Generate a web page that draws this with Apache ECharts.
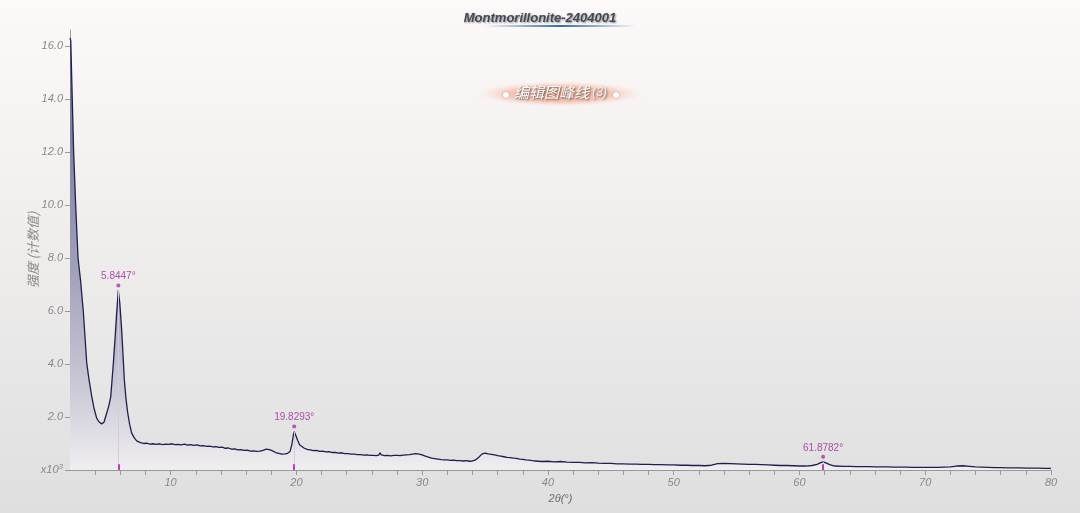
<!DOCTYPE html>
<html>
<head>
<meta charset="utf-8">
<script src="https://cdn.jsdelivr.net/npm/echarts@6/dist/echarts.min.js"></script>
<style>html,body{margin:0;padding:0;}#c{width:1080px;height:513px;}</style>
</head>
<body>
<div id="c"></div>
<script>
// XRD scan: [2θ (°), intensity (x10³ counts)]
const scan = [
[2.0,16.3],[2.06,16.2],[2.18,14.0],[2.29,12.0],[2.45,10.0],[2.64,8.0],[2.85,7.1],[3.06,5.97],[3.33,4.04],[3.5,3.45],
[3.73,2.77],[3.9,2.35],[4.12,1.96],[4.3,1.82],[4.52,1.74],[4.7,1.80],[4.92,2.15],[5.1,2.45],[5.24,2.77],[5.45,4.04],
[5.6,5.1],[5.71,5.92],[5.84,6.77],[5.96,6.3],[6.11,5.28],[6.32,3.40],[6.45,2.7],[6.59,2.15],[6.75,1.7],[6.9,1.40],
[7.1,1.22],[7.3,1.10],[7.6,1.03],[7.85,1.00],[8.1,1.01],[8.35,0.98],[8.6,0.99],[8.85,0.97],[9.1,0.99],[9.35,0.96],
[9.6,0.98],[9.85,0.97],[10.1,0.99],[10.35,0.96],[10.6,0.97],[10.85,0.95],[11.1,0.98],[11.35,0.94],[11.6,0.96],[11.85,0.93],
[12.1,0.95],[12.35,0.91],[12.6,0.92],[12.85,0.89],[13.1,0.90],[13.35,0.87],[13.6,0.88],[13.85,0.85],[14.1,0.86],[14.35,0.82],
[14.6,0.83],[14.85,0.79],[15.1,0.80],[15.35,0.76],[15.6,0.77],[15.85,0.74],[16.1,0.75],[16.35,0.71],[16.6,0.72],[16.85,0.70],
[17.1,0.71],[17.35,0.74],[17.6,0.79],[17.85,0.77],[18.1,0.72],[18.35,0.66],[18.6,0.63],[18.85,0.60],[19.1,0.61],[19.3,0.63],
[19.5,0.70],[19.65,0.98],[19.75,1.30],[19.83,1.45],[19.95,1.38],[20.1,1.12],[20.25,0.95],[20.4,0.88],[20.6,0.83],[20.85,0.78],
[21.1,0.76],[21.35,0.73],[21.6,0.74],[21.85,0.70],[22.1,0.71],[22.35,0.68],[22.6,0.69],[22.85,0.66],[23.1,0.66],[23.35,0.64],
[23.6,0.65],[23.85,0.62],[24.1,0.62],[24.35,0.60],[24.6,0.60],[24.85,0.58],[25.1,0.58],[25.35,0.56],[25.6,0.57],[25.85,0.55],
[26.1,0.55],[26.35,0.54],[26.55,0.56],[26.65,0.65],[26.75,0.57],[27.0,0.54],[27.25,0.55],[27.5,0.53],[27.75,0.55],[28.0,0.55],
[28.25,0.54],[28.5,0.56],[28.75,0.57],[29.0,0.58],[29.25,0.60],[29.5,0.62],[29.75,0.60],[30.0,0.57],[30.25,0.52],[30.5,0.49],
[30.75,0.45],[31.0,0.43],[31.25,0.41],[31.5,0.39],[31.75,0.38],[32.0,0.38],[32.25,0.36],[32.5,0.37],[32.75,0.35],[33.0,0.35],
[33.25,0.34],[33.5,0.35],[33.75,0.33],[34.0,0.34],[34.25,0.38],[34.5,0.48],[34.75,0.60],[35.0,0.64],[35.25,0.61],[35.5,0.59],
[35.75,0.57],[36.0,0.54],[36.25,0.52],[36.5,0.50],[36.75,0.48],[37.0,0.47],[37.25,0.45],[37.5,0.44],[37.75,0.41],[38.0,0.40],
[38.25,0.38],[38.5,0.37],[38.75,0.35],[39.0,0.34],[39.25,0.33],[39.5,0.32],[40.0,0.33],[40.5,0.31],[41.0,0.32],[41.5,0.30],
[42.0,0.29],[42.5,0.29],[43.0,0.27],[43.5,0.28],[44.0,0.26],[44.5,0.25],[45.0,0.25],[45.5,0.23],[46.0,0.23],[46.5,0.22],
[47.0,0.22],[47.5,0.21],[48.0,0.21],[48.5,0.20],[49.0,0.20],[49.5,0.19],[50.0,0.19],[50.5,0.18],[51.0,0.18],[51.5,0.17],
[52.0,0.17],[52.5,0.16],[53.0,0.18],[53.5,0.24],[54.0,0.25],[54.5,0.24],[55.0,0.23],[55.5,0.22],[56.0,0.21],[56.5,0.21],
[57.0,0.20],[57.5,0.19],[58.0,0.18],[58.5,0.17],[59.0,0.17],[59.5,0.16],[60.0,0.15],[60.5,0.15],[61.0,0.17],[61.4,0.21],
[61.7,0.28],[61.88,0.31],[62.1,0.27],[62.4,0.20],[62.8,0.15],[63.5,0.14],[64.0,0.14],[64.5,0.13],[65.0,0.13],[65.5,0.13],
[66.0,0.12],[66.5,0.12],[67.0,0.12],[67.5,0.11],[68.0,0.11],[68.5,0.11],[69.0,0.10],[69.5,0.10],[70.0,0.10],[70.5,0.10],
[71.0,0.10],[71.5,0.11],[72.0,0.12],[72.5,0.15],[73.0,0.16],[73.5,0.14],[74.0,0.12],[74.5,0.11],[75.0,0.10],[75.5,0.09],
[76.0,0.09],[76.5,0.08],[77.0,0.08],[77.5,0.08],[78.0,0.07],[78.5,0.07],[79.0,0.07],[79.5,0.06],[80.0,0.06]
];
const peakPositions = [5.8447, 19.8293, 61.8782];
const peakHeights = [6.77, 1.45, 0.31];
const xTickValues = [4,6,8,10,12,14,16,18,20,22,24,26,28,30,32,34,36,38,40,42,44,46,48,50,52,54,56,58,60,62,64,66,68,70,72,74,76,78,80];
const xLabelValues = [10,20,30,40,50,60,70,80];
const yTickValues = [0,2,4,6,8,10,12,14,16];
const titleText = 'Montmorillonite-2404001';
const badgeText = '编辑图峰线';
const badgeCount = '(3)';
const yName = '强度 (计数值)';
const xName = '2θ(°)';

const chart = echarts.init(document.getElementById('c'), null, {renderer: 'canvas'});
const FONT = '"Liberation Sans", Arial, sans-serif';

const peakPts = peakPositions.map((p, i) => [p, peakHeights[i]]);
const guideLines = peakPositions.map((p, i) => [{coord: [p, 0]}, {coord: [p, peakHeights[i]]}]);
const tickLines = peakPositions.map(p => [{coord: [p, 0]}, {coord: [p, 0.22]}]);

const option = {
  backgroundColor: new echarts.graphic.LinearGradient(0, 0, 0, 1, [
    {offset: 0, color: '#fcf9f8'},
    {offset: 0.45, color: '#f0eeed'},
    {offset: 0.85, color: '#e3e3e3'},
    {offset: 1, color: '#dfdfdf'}
  ]),
  animation: false,
  title: {
    text: titleText,
    left: 'center',
    top: 7,
    textStyle: {
      fontFamily: FONT, fontSize: 13, fontWeight: 'bold', fontStyle: 'italic', color: '#434854',
      textShadowColor: 'rgba(0,0,0,0.45)', textShadowBlur: 2, textShadowOffsetX: 1, textShadowOffsetY: 1
    }
  },
  graphic: [
    {
      type: 'rect', left: 484, top: 25, z: 10,
      shape: {width: 152, height: 2},
      style: {fill: new echarts.graphic.LinearGradient(0, 0, 1, 0, [
        {offset: 0, color: 'rgba(46,109,181,0)'},
        {offset: 0.5, color: 'rgba(46,109,181,1)'},
        {offset: 1, color: 'rgba(46,109,181,0)'}
      ])}
    },
    {
      type: 'circle', z: 10, x: 560, y: 94, scaleX: 6.6, scaleY: 1,
      shape: {cx: 0, cy: 0, r: 13},
      style: {fill: new echarts.graphic.RadialGradient(0.5, 0.5, 0.5, [
        {offset: 0, color: 'rgba(242,145,115,0.95)'},
        {offset: 0.6, color: 'rgba(246,180,158,0.7)'},
        {offset: 1, color: 'rgba(252,230,222,0)'}
      ])}
    },
    {type: 'circle', z: 11, shape: {cx: 506, cy: 95, r: 3}, style: {fill: '#ffffff', shadowColor: 'rgba(0,0,0,0.35)', shadowBlur: 2}},
    {type: 'circle', z: 11, shape: {cx: 616, cy: 95, r: 3}, style: {fill: '#ffffff', shadowColor: 'rgba(0,0,0,0.35)', shadowBlur: 2}},
    {
      type: 'text', z: 11, left: 514, top: 85,
      style: {
        text: '{a|' + badgeText + '} {b|' + badgeCount + '}',
        rich: {
          a: {fontSize: 15, fontStyle: 'italic', fontFamily: '"Noto Sans CJK SC", sans-serif', fill: '#ffffff',
              textShadowColor: 'rgba(50,50,50,0.8)', textShadowBlur: 2, textShadowOffsetX: 1, textShadowOffsetY: 1},
          b: {fontSize: 12, fontStyle: 'italic', fontFamily: FONT, fill: '#f2f2f2',
              textShadowColor: 'rgba(50,50,50,0.7)', textShadowBlur: 2, textShadowOffsetX: 1, textShadowOffsetY: 1}
        }
      }
    }
  ],
  grid: {left: 70, right: 29, top: 30, bottom: 43},
  xAxis: {
    type: 'value', min: 2, max: 80, interval: 2,
    name: xName, nameLocation: 'middle', nameGap: 23,
    nameTextStyle: {fontFamily: FONT, fontSize: 11, fontStyle: 'italic', color: '#6d6d6d'},
    axisLine: {show: true, lineStyle: {color: '#9a9a9a', width: 1}},
    axisTick: {show: true, length: 5, customValues: xTickValues, lineStyle: {color: '#9a9a9a'}},
    axisLabel: {customValues: xLabelValues, margin: 7, fontFamily: FONT, fontSize: 11, fontStyle: 'italic', color: '#888888'},
    splitLine: {show: false}
  },
  yAxis: {
    type: 'value', min: 0, max: 16.6,
    name: yName, nameLocation: 'middle', nameGap: 30, nameRotate: 90, nameMoveOverlap: false,
    nameTextStyle: {fontFamily: '"Noto Sans CJK SC", sans-serif', fontSize: 13, fontStyle: 'italic', color: '#8a8a8a'},
    axisLine: {show: true, lineStyle: {color: '#a0a0a0', width: 1}},
    axisTick: {show: true, length: 5, customValues: yTickValues, lineStyle: {color: '#9a9a9a'}},
    axisLabel: {
      customValues: yTickValues, margin: 7, fontFamily: FONT, fontSize: 11, fontStyle: 'italic', color: '#888888',
      formatter: v => v === 0 ? 'x10{s|3}' : v.toFixed(1),
      rich: {s: {fontSize: 8, fontStyle: 'italic', color: '#888888', padding: [0, 0, 6, 0]}}
    },
    splitLine: {show: false}
  },
  series: [
    {
      type: 'line', data: scan, showSymbol: false, sampling: 'none', z: 3,
      lineStyle: {color: '#1f1f4f', width: 1.3},
      areaStyle: {
        origin: 'start', opacity: 1,
        color: new echarts.graphic.LinearGradient(0, 30, 0, 470, [
          {offset: 0, color: '#68688f'},
          {offset: 0.55, color: '#a2a1ba'},
          {offset: 0.82, color: '#cbcad7'},
          {offset: 1, color: '#f1eef1'}
        ], true)
      },
      markLine: {
        silent: true, symbol: ['none', 'none'], label: {show: false},
        lineStyle: {color: '#d5cdd6', width: 1, type: 'solid'},
        data: guideLines
      }
    },
    {
      type: 'line', data: [], z: 4,
      markLine: {
        silent: true, symbol: ['none', 'none'], label: {show: false},
        lineStyle: {color: '#c03cc0', width: 2, type: 'solid'},
        data: tickLines
      }
    },
    {
      type: 'scatter', data: peakPts, z: 5,
      symbol: 'circle', symbolSize: 4, symbolOffset: [0, -5],
      itemStyle: {color: '#b030b0'},
      label: {
        show: true, position: 'top', distance: 2,
        fontFamily: FONT, fontSize: 10, color: '#a0249c',
        formatter: p => p.value[0].toFixed(4) + '°'
      }
    }
  ]
};
chart.setOption(option);
</script>
</body>
</html>
